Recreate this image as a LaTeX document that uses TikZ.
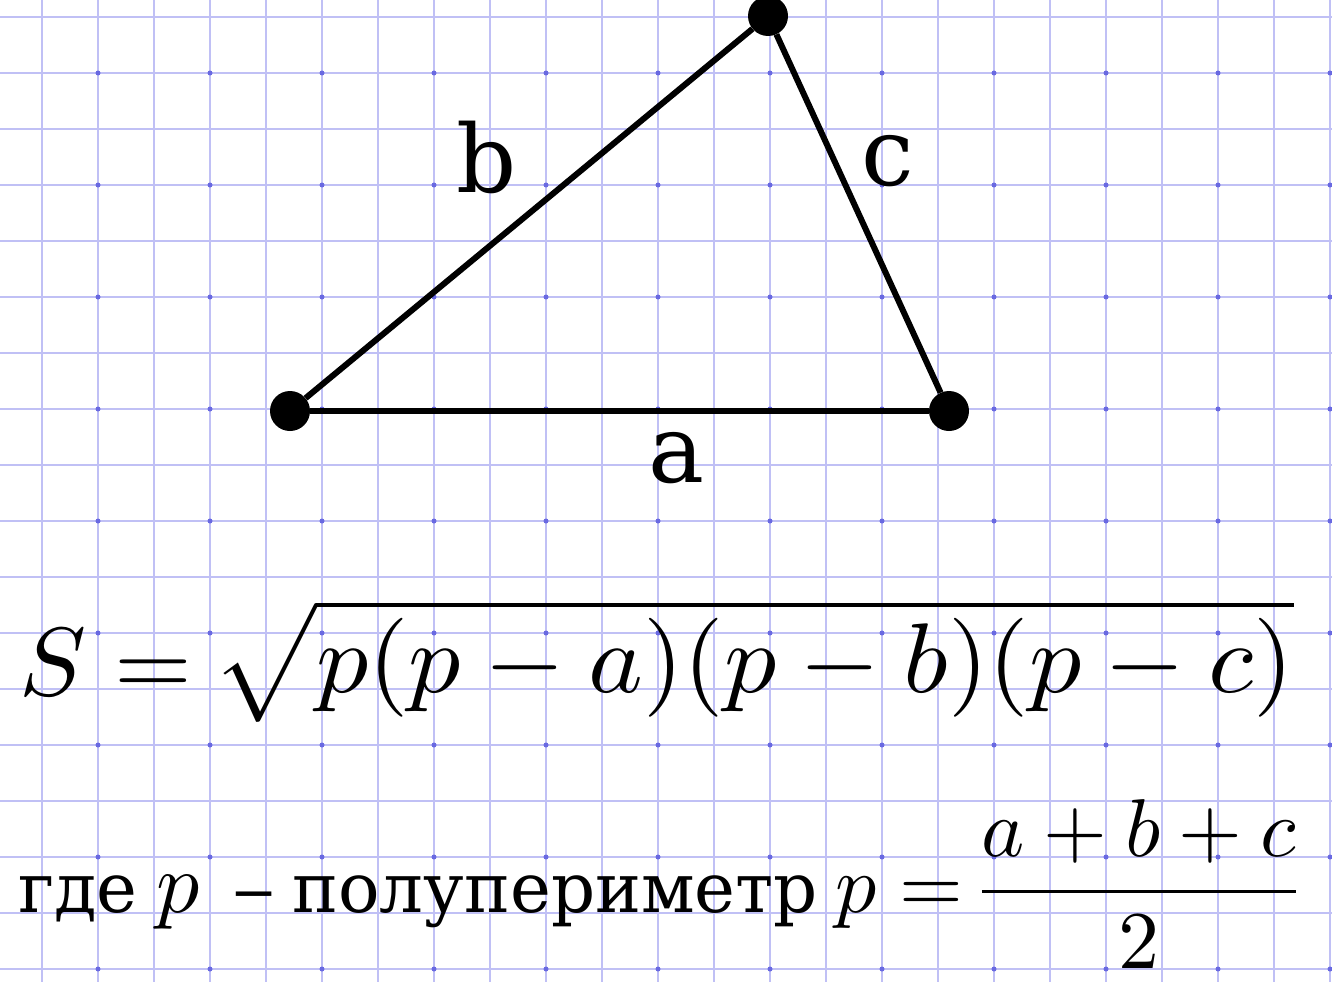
\documentclass[tikz,border=0pt]{standalone}
\usepackage{amsmath}
\usepackage{graphicx}
\usepackage[no-math]{fontspec}
\setmainfont{DejaVu Serif}
\definecolor{gridc}{RGB}{192,192,245}
\definecolor{dotc}{RGB}{105,105,225}
\begin{document}
\begin{tikzpicture}[x=1pt,y=-1pt,
  gridline/.style={gridc, line width=1.6pt},
  vertex/.style={circle, fill=black, inner sep=0pt, minimum size=40pt},
  side/.style={line width=6pt, black},
  lbl/.style={font=\fontsize{94}{110}\selectfont, anchor=base, inner sep=0pt},
  formula/.style={anchor=base west, inner sep=0pt},
  txt/.style={anchor=base west, inner sep=0pt, font=\fontsize{69}{80}\selectfont},
]
\useasboundingbox (0,0) rectangle (1332,982);
\fill[white] (0,0) rectangle (1332,982);
\foreach \i in {0,...,23} \draw[gridline] (42+56*\i,0) -- (42+56*\i,982);
\foreach \j in {0,...,17} \draw[gridline] (0,17+56*\j) -- (1332,17+56*\j);
\foreach \i in {0,...,11} \foreach \j in {0,...,8} \fill[dotc] (98+112*\i,73+112*\j) circle (2.5);
% triangle
\node[vertex] (A) at (290,411) {};
\node[vertex] (B) at (949,411) {};
\node[vertex] (C) at (768,16) {};
\draw[side] (A) -- (B);
\draw[side] (B) -- (C);
\draw[side] (C) -- (A);
\node[lbl] (la) at (677,482) {a};
\node[lbl] (lb) at (487,192) {b};
\node[lbl] (lc) at (888,185) {c};
% Heron's formula
\node[formula] (heronl) at (19,695)
  {\scalebox{10}[9.7]{\fontsize{10}{12}\selectfont$S =$}};
\node[formula] (heronr) at (212,692)
  {\scalebox{10.4}[9.9]{\fontsize{10}{12}\selectfont$\sqrt{p(p-a)(p-b)(p-c)}$}};
% semiperimeter line
\node[txt] (gde) at (18,912) {где};
\node[formula] (p1) at (156,912) {\scalebox{8.6}{\fontsize{10}{12}\selectfont$p$}};
\node[txt] (dash) at (232,912) {\scalebox{1.25}[1]{–}};
\node[txt] (word) at (292,912) {полупериметр};
\node[formula] (pfrac) at (835,912)
  {\scalebox{8.2}{\fontsize{10}{12}\selectfont$p = \!\dfrac{a+b+c}{2}$}};
\end{tikzpicture}
\end{document}
